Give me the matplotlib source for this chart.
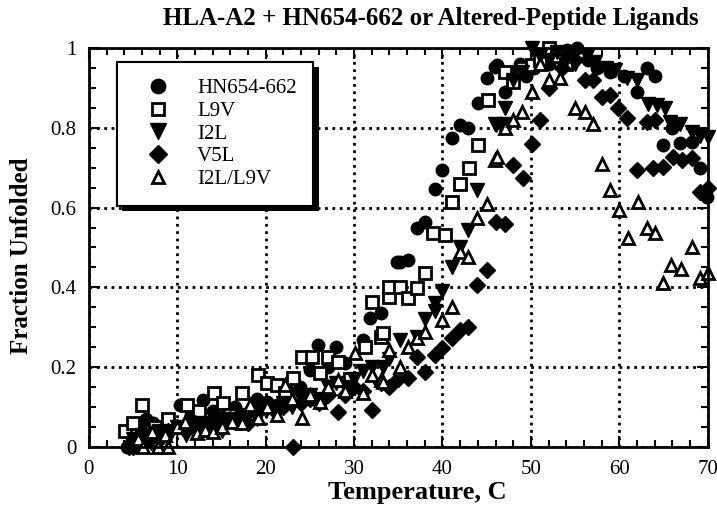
import matplotlib
matplotlib.use("Agg")
import matplotlib.pyplot as plt
import matplotlib.patheffects as pe
from matplotlib.ticker import MultipleLocator

plt.rcParams['font.family'] = ['Liberation Serif', 'DejaVu Serif']

# HN654-662 (filled circles)
hn_t = [4.3, 4.8, 5.8, 6.5, 7.2, 8.0, 9.0, 10.3, 11.5, 12.9, 14.0, 15.2, 16.5, 17.5, 19.0,
        20.1, 21.3, 22.5, 23.9, 25.0, 25.9, 27.0, 28.0, 29.0, 31.0, 31.8, 33.1, 34.1, 34.8,
        35.2, 36.1, 37.1, 38.0, 39.1, 40.0, 41.1, 42.0, 42.9, 44.0, 45.0, 45.9, 46.2, 47.1,
        48.0, 48.8, 49.5, 50.3, 51.0, 52.0, 53.0, 54.1, 55.2, 56.5, 57.5, 59.0, 60.5, 62.0,
        63.1, 64.0, 65.0, 66.0, 66.9, 68.2, 69.1, 69.9]
hn_f = [0.0, 0.01, 0.05, 0.07, 0.06, 0.05, 0.04, 0.105, 0.08, 0.118, 0.09, 0.075, 0.1, 0.08, 0.12,
        0.113, 0.105, 0.14, 0.15, 0.193, 0.255, 0.2, 0.25, 0.21, 0.268, 0.323, 0.336, 0.40, 0.464,
        0.464, 0.469, 0.549, 0.564, 0.647, 0.694, 0.774, 0.807, 0.80, 0.862, 0.925, 0.952, 0.957, 0.89,
        0.94, 0.96, 0.93, 0.95, 0.97, 0.96, 0.98, 0.995, 1.0, 0.97, 0.95, 0.94, 0.93, 0.89,
        0.95, 0.93, 0.757, 0.80, 0.762, 0.764, 0.70, 0.627]

# L9V (open squares)
l9v_t = [4.1, 5.0, 6.0, 7.5, 9.0, 11.1, 12.5, 14.1, 15.2, 16.0, 17.3, 19.1, 20.2, 21.3, 22.2,
         23.1, 24.1, 25.2, 26.1, 27.0, 28.2, 29.5, 31.2, 32.0, 33.1, 33.3, 34.0, 34.0, 35.2,
         36.1, 37.1, 38.0, 38.9, 40.3, 41.1, 42.0, 43.0, 44.0, 45.1, 47.1, 48.0, 49.0, 50.1,
         51.0, 52.1, 53.0, 54.0]
l9v_f = [0.04, 0.06, 0.105, 0.05, 0.07, 0.105, 0.09, 0.135, 0.11, 0.08, 0.135, 0.18, 0.16, 0.155, 0.135,
         0.173, 0.226, 0.226, 0.185, 0.226, 0.213, 0.17, 0.25, 0.363, 0.276, 0.286, 0.376, 0.40, 0.40,
         0.373, 0.398, 0.436, 0.536, 0.531, 0.614, 0.66, 0.70, 0.757, 0.87, 0.94, 0.915, 0.95, 0.957,
         0.97, 1.0, 0.98, 0.96]

# I2L (filled down triangles)
i2l_t = [5, 6, 7, 8, 9, 10, 11, 12, 13, 14, 15, 16, 17, 18, 19, 20, 21, 22, 23, 24, 25, 26, 27, 28,
         29, 30, 31, 32, 33.3, 34.0, 35.2, 37.1, 38.0, 39.1, 39.1, 39.9, 41.1, 42.0, 42.9, 43.9,
         45.9, 46.0, 46.7, 46.8, 47.1, 48, 49, 50.1, 51, 52, 53, 54, 55, 56.3, 57.2, 58.5, 59.5,
         60.9, 62.0, 63.2, 64.3, 65.2, 65.7, 66.9, 68.2, 69.1, 70]
i2l_f = [0.02, 0.03, 0.01, 0.04, 0.02, 0.05, 0.03, 0.04, 0.06, 0.05, 0.04, 0.07, 0.06, 0.08, 0.07,
         0.09, 0.1, 0.11, 0.1, 0.12, 0.13, 0.12, 0.15, 0.16, 0.15, 0.17, 0.19, 0.2, 0.2, 0.22, 0.268,
         0.276, 0.32, 0.34, 0.36, 0.39, 0.45, 0.50, 0.544, 0.644, 0.81, 0.807, 0.80, 0.81, 0.85, 0.92,
         0.94, 1.0, 0.98, 0.97, 0.99, 0.97, 0.96, 0.98, 0.965, 0.95, 0.945, 0.925, 0.92, 0.86, 0.857,
         0.85, 0.815, 0.81, 0.79, 0.78, 0.777]

# V5L (filled diamonds)
v5l_t = [4.5, 5, 6, 7, 8, 9, 10, 11, 12, 13, 14, 15, 16, 17, 18, 19, 20, 21, 22, 23.1, 24, 25, 26,
         27, 28.2, 29, 30, 31, 32, 33, 34, 35, 36.1, 37.1, 38, 39.1, 40, 41.1, 42, 42.9, 43.9, 45,
         46.1, 47.1, 48, 49.1, 50.1, 51, 52.1, 53.5, 55, 56.1, 57, 58, 59, 59.8, 60.9, 62, 63.1,
         63.8, 64, 64.9, 66.1, 67.1, 68.2, 69.1, 70]
v5l_f = [0.0, 0.0, 0.01, 0.03, 0.02, 0.04, 0.05, 0.04, 0.06, 0.05, 0.07, 0.06, 0.07, 0.08, 0.06,
         0.09, 0.1, 0.09, 0.1, 0.0, 0.11, 0.12, 0.11, 0.13, 0.088, 0.13, 0.15, 0.14, 0.093, 0.16,
         0.15, 0.17, 0.173, 0.225, 0.188, 0.23, 0.248, 0.273, 0.293, 0.30, 0.406, 0.444, 0.564,
         0.56, 0.707, 0.674, 0.76, 0.82, 0.90, 0.95, 0.97, 0.92, 0.92, 0.877, 0.882, 0.85, 0.825,
         0.694, 0.815, 0.70, 0.82, 0.702, 0.727, 0.72, 0.724, 0.64, 0.65]

# I2L/L9V (open up triangles)
dbl_t = [5.5, 6.1, 7.1, 7.8, 8.6, 8.9, 10.0, 10.9, 12.2, 13.1, 14.0, 15.0, 16.2, 17.3, 18.2, 19.1,
         20.1, 21.3, 22.2, 23.0, 24.1, 25.0, 26.1, 27.0, 28.2, 29.0, 30.1, 31.0, 32.0, 33.1, 33.3,
         34.0, 35.2, 35.2, 36.1, 37.1, 38.0, 40.0, 41.1, 42.0, 42.9, 43.9, 45.0, 45.9, 46.2, 47.1,
         48.0, 49.0, 50.1, 51.0, 52.1, 53.3, 55.0, 56.1, 57.0, 58.0, 58.9, 60.0, 61.0, 62.1, 63.1,
         64.0, 65.0, 65.9, 67.0, 68.2, 69.1, 70.0]
dbl_f = [0.02, 0.0, 0.038, 0.0, 0.03, 0.0, 0.05, 0.063, 0.035, 0.043, 0.038, 0.05, 0.063, 0.06,
         0.105, 0.073, 0.1, 0.08, 0.155, 0.12, 0.073, 0.13, 0.113, 0.15, 0.168, 0.14, 0.235, 0.135,
         0.18, 0.168, 0.163, 0.243, 0.193, 0.2, 0.25, 0.273, 0.288, 0.318, 0.35, 0.489, 0.476, 0.573,
         0.61, 0.72, 0.727, 0.80, 0.82, 0.84, 0.89, 0.96, 0.92, 0.925, 0.85, 0.84, 0.81, 0.71, 0.644,
         0.594, 0.524, 0.614, 0.549, 0.536, 0.411, 0.456, 0.446, 0.501, 0.424, 0.436]

fig = plt.figure(figsize=(7.17, 5.15), dpi=100)
ax = fig.add_axes([0.124, 0.132, 0.863, 0.775])

ax.plot(hn_t, hn_f, 'o', ms=9, color='black', label='HN654-662', clip_on=False)
ax.plot(l9v_t, l9v_f, 's', ms=8, mfc='white', mec='black', mew=2, label='L9V', clip_on=False)
ax.plot(i2l_t, i2l_f, 'v', ms=10, color='black', label='I2L', clip_on=False)
ax.plot(v5l_t, v5l_f, 'D', ms=8, color='black', label='V5L', clip_on=False)
ax.plot(dbl_t, dbl_f, '^', ms=8, mfc='white', mec='black', mew=2, label='I2L/L9V', clip_on=False)

ax.set_xlim(0, 70)
ax.set_ylim(0, 1)
ax.xaxis.set_major_locator(MultipleLocator(10))
ax.xaxis.set_minor_locator(MultipleLocator(2))
ax.yaxis.set_minor_locator(MultipleLocator(0.05))
ax.set_yticks([0, 0.2, 0.4, 0.6, 0.8, 1])
ax.set_yticklabels(['0', '0.2', '0.4', '0.6', '0.8', '1'])
ax.tick_params(which='both', direction='in', top=True, right=True, width=1.5, labelsize=15)
ax.tick_params(which='major', length=8, pad=9)
ax.tick_params(which='minor', length=5)
for s in ax.spines.values():
    s.set_linewidth(2)
ax.grid(True, which='major', linestyle=':', color='black', linewidth=2)

ax.set_xlabel('Temperature, C', fontsize=19, fontweight='bold', labelpad=2)
ax.xaxis.set_label_coords(0.53, -0.085)
ax.set_ylabel('Fraction Unfolded', fontsize=18, fontweight='bold')
ax.yaxis.set_label_coords(-0.09, 0.48)
fig.text(0.601, 0.965, 'HLA-A2 + HN654-662 or Altered-Peptide Ligands', fontsize=18,
         fontweight='bold', ha='center', va='center')

leg = ax.legend(loc='upper left', bbox_to_anchor=(0.045, 0.965), borderaxespad=0,
                fontsize=15, frameon=True, fancybox=False, edgecolor='black',
                framealpha=1, handletextpad=0.65, borderpad=0.8, labelspacing=0.15,
                handlelength=2.4, markerscale=1.15)
leg.get_frame().set_linewidth(1.5)
leg.get_frame().set_path_effects([
    pe.withSimplePatchShadow(offset=(4, -4), shadow_rgbFace='black', alpha=1),
    pe.Normal()])

fig.savefig('out.png', dpi=100)
